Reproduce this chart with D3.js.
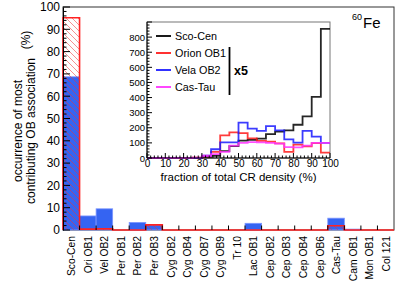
<!DOCTYPE html>
<html><head><meta charset="utf-8">
<script src="https://cdn.jsdelivr.net/npm/d3@7"></script>
<style>html,body{margin:0;padding:0;background:#fff;}svg{display:block;font-family:"Liberation Sans",Arial,sans-serif;}</style>
</head><body>
<svg id="c" width="415" height="282"></svg>
<script>
// ---- main chart data ----
const categories = ["Sco-Cen","Ori OB1","Vel OB2","Per OB1","Per OB2","Per OB3","Cyg OB2","Cyg OB4","Cyg OB7","Cyg OB9","Tr 10","Lac OB1","Cep OB2","Cep OB3","Cep OB4","Cep OB6","Cas-Tau","Cam OB1","Mon OB1","Col 121"];
const blueValues = [68.7,6.3,9.5,0,3.4,2.3,0,0,0,0,0,3.0,0,0,0,0,5.3,0.4,0,0];
const redValues  = [95.2,0.4,0.5,0,0,2.3,0,0,0,0,0,0,0,0,0,0,1.9,0,0,0];
const mainYTicks = [0,10,20,30,40,50,60,70,80,90,100];

// ---- inset data (bins of 5% from 0 to 100) ----
const insetBinEdges = [0,5,10,15,20,25,30,35,40,45,50,55,60,65,70,75,80,85,90,95,100];
const scoCen = [0,0,0,0,0,0,8,15,45,78,115,120,128,158,175,183,220,275,405,855];
const orionOB1 = [0,0,0,0,0,3,10,40,150,170,165,130,113,108,97,40,88,77,99,36];
const velaOB2 = [0,0,0,0,0,0,15,58,104,104,234,194,180,211,183,123,102,179,141,100];
const casTau = [0,0,0,0,0,2,15,25,40,82,100,105,103,100,95,72,70,82,100,100];
const insetSeriesNames = ["Sco-Cen","Orion OB1","Vela OB2","Cas-Tau"];
const insetColors = ["#000000","#ff1a1a","#1a1aff","#ff33ff"];
const insetXTicks = [0,10,20,30,40,50,60,70,80,90,100];
const insetYTicks = [0,100,200,300,400,500,600,700,800];

const svg = d3.select("#c");

// ---- main scales ----
const x = d3.scaleBand().domain(categories).range([63,394]).padding(0);
const y = d3.scaleLinear().domain([0,100]).range([230,7]);

// hatch pattern
const defs = svg.append("defs");
const pat = defs.append("pattern").attr("id","hatch").attr("patternUnits","userSpaceOnUse")
  .attr("width",6).attr("height",6);
pat.append("path").attr("d","M0,0 L6,6 M-1,5 L1,7 M5,-1 L7,1")
  .attr("stroke","#ee3333").attr("stroke-width",0.9).attr("stroke-opacity",0.6);

// frame
svg.append("rect").attr("x",63).attr("y",7).attr("width",331).attr("height",223)
  .attr("fill","none").attr("stroke","#333").attr("stroke-width",1);

// blue bars
svg.append("g").selectAll("rect").data(categories).join("rect")
  .attr("x",d=>x(d)).attr("width",x.bandwidth())
  .attr("y",(d,i)=>y(blueValues[i])).attr("height",(d,i)=>y(0)-y(blueValues[i]))
  .attr("fill","#3564f2").attr("stroke","#7d96ff").attr("stroke-width",0.8);

// red hatched histogram
svg.append("g").selectAll("rect").data(categories).join("rect")
  .attr("x",d=>x(d)).attr("width",x.bandwidth())
  .attr("y",(d,i)=>y(redValues[i])).attr("height",(d,i)=>y(0)-y(redValues[i]))
  .attr("fill","url(#hatch)");
// red outline as step line
let rp = "";
categories.forEach((c,i)=>{
  const x0=x(c), x1=x(c)+x.bandwidth(), yy=y(redValues[i]);
  rp += (i===0?`M${x0},${y(0)}L${x0},${yy}`:`L${x0},${yy}`) + `L${x1},${yy}`;
});
rp += `L${x(categories[categories.length-1])+x.bandwidth()},${y(0)}`;
svg.append("path").attr("d",rp).attr("fill","none").attr("stroke","#ff2222").attr("stroke-width",1.6);

// main y axis
const yAxis = d3.axisLeft(y).tickValues(mainYTicks).tickSize(0).tickPadding(3);
const gy = svg.append("g").attr("transform","translate(63,0)").call(yAxis);
gy.select(".domain").attr("stroke","#000");
gy.selectAll("text").attr("font-size",12).attr("fill","#000").attr("font-family","Liberation Sans, Arial, sans-serif");
// ticks drawn inside
const yMinor = d3.range(0,101,2);
svg.append("g").selectAll("line").data(yMinor).join("line")
  .attr("x1",63).attr("x2",d=>d%10===0?70:66.5)
  .attr("y1",d=>y(d)).attr("y2",d=>y(d)).attr("stroke","#000").attr("stroke-width",1);

// main x axis ticks at bin boundaries
svg.append("g").selectAll("line").data(categories.slice(1)).join("line")
  .attr("x1",d=>x(d)).attr("x2",d=>x(d)).attr("y1",230).attr("y2",225.5)
  .attr("stroke","#000").attr("stroke-width",1);

// x labels
svg.append("g").selectAll("text").data(categories).join("text")
  .attr("transform",d=>`translate(${x(d)+x.bandwidth()/2+4},236) rotate(-90)`)
  .attr("text-anchor","end").attr("font-size",10.3).attr("fill","#000").text(d=>d);

// y title
const yt = svg.append("g");
yt.append("text").attr("transform","translate(22,131) rotate(-90)").attr("text-anchor","middle")
  .attr("font-size",12).text("occurrence of most");
yt.append("text").attr("transform","translate(35,131) rotate(-90)").attr("text-anchor","middle")
  .attr("font-size",12).text("contributing OB association");
yt.append("text").attr("transform","translate(30,40) rotate(-90)").attr("text-anchor","middle")
  .attr("font-size",12).text("(%)");

// 60Fe label
const fe = svg.append("text").attr("x",352).attr("y",28).attr("font-size",15);
fe.append("tspan").attr("font-size",9).attr("dy",-8).text("60");
fe.append("tspan").attr("dy",8).attr("dx",1).text("Fe");

// ---- inset ----
const ix = d3.scaleLinear().domain([0,100]).range([147,330]);
const iy = d3.scaleLinear().domain([0,900]).range([158,22]);
svg.append("rect").attr("x",147).attr("y",22).attr("width",183).attr("height",136)
  .attr("fill","#fff").attr("stroke","#777").attr("stroke-width",1);

const series = [scoCen, orionOB1, velaOB2, casTau];
series.forEach((vals,si)=>{
  let p = "";
  vals.forEach((v,i)=>{
    const x0=ix(insetBinEdges[i]), x1=ix(insetBinEdges[i+1]), yy=iy(v);
    p += (i===0?`M${x0},${yy}`:`L${x0},${yy}`) + `L${x1},${yy}`;
  });
  svg.append("path").attr("d",p).attr("fill","none").attr("stroke",insetColors[si])
    .attr("stroke-width",1.8).attr("stroke-opacity",0.85);
});

// inset axes lines
svg.append("line").attr("x1",147).attr("x2",147).attr("y1",22).attr("y2",158).attr("stroke","#000");
svg.append("line").attr("x1",147).attr("x2",330).attr("y1",158).attr("y2",158).attr("stroke","#000");
// inset ticks
svg.append("g").selectAll("line").data(d3.range(0,101,2)).join("line")
  .attr("x1",d=>ix(d)).attr("x2",d=>ix(d)).attr("y1",158).attr("y2",d=>d%10===0?153:155.5)
  .attr("stroke","#000");
svg.append("g").selectAll("line").data(d3.range(0,901,20)).join("line")
  .attr("y1",d=>iy(d)).attr("y2",d=>iy(d)).attr("x1",147).attr("x2",d=>d%100===0?152:149.5)
  .attr("stroke","#000");
const ixAxis = d3.axisBottom(ix).tickValues(insetXTicks).tickSize(0).tickPadding(2);
const gix = svg.append("g").attr("transform","translate(0,158)").call(ixAxis);
gix.select(".domain").remove();
gix.selectAll("text").attr("font-size",10).attr("fill","#000").attr("font-family","Liberation Sans, Arial, sans-serif");
const iyAxis = d3.axisLeft(iy).tickValues(insetYTicks).tickSize(0).tickPadding(2);
const giy = svg.append("g").attr("transform","translate(147,0)").call(iyAxis);
giy.select(".domain").remove();
giy.selectAll("text").attr("font-size",9.5).attr("fill","#000").attr("font-family","Liberation Sans, Arial, sans-serif");

svg.append("text").attr("x",238.5).attr("y",181).attr("text-anchor","middle").attr("font-size",11.5)
  .text("fraction of total CR density (%)");

// legend
const lg = svg.append("g");
insetSeriesNames.forEach((n,i)=>{
  const yy = 36 + i*17;
  lg.append("line").attr("x1",156).attr("x2",171).attr("y1",yy).attr("y2",yy)
    .attr("stroke",insetColors[i]).attr("stroke-width",1.8);
  lg.append("text").attr("x",175).attr("y",yy+4).attr("font-size",10.8).text(n);
});
lg.append("line").attr("x1",229.5).attr("x2",229.5).attr("y1",47).attr("y2",95).attr("stroke","#000").attr("stroke-width",1.8);
lg.append("text").attr("x",234).attr("y",75).attr("font-size",12.5).attr("font-weight","bold").text("x5");
</script>
</body></html>
